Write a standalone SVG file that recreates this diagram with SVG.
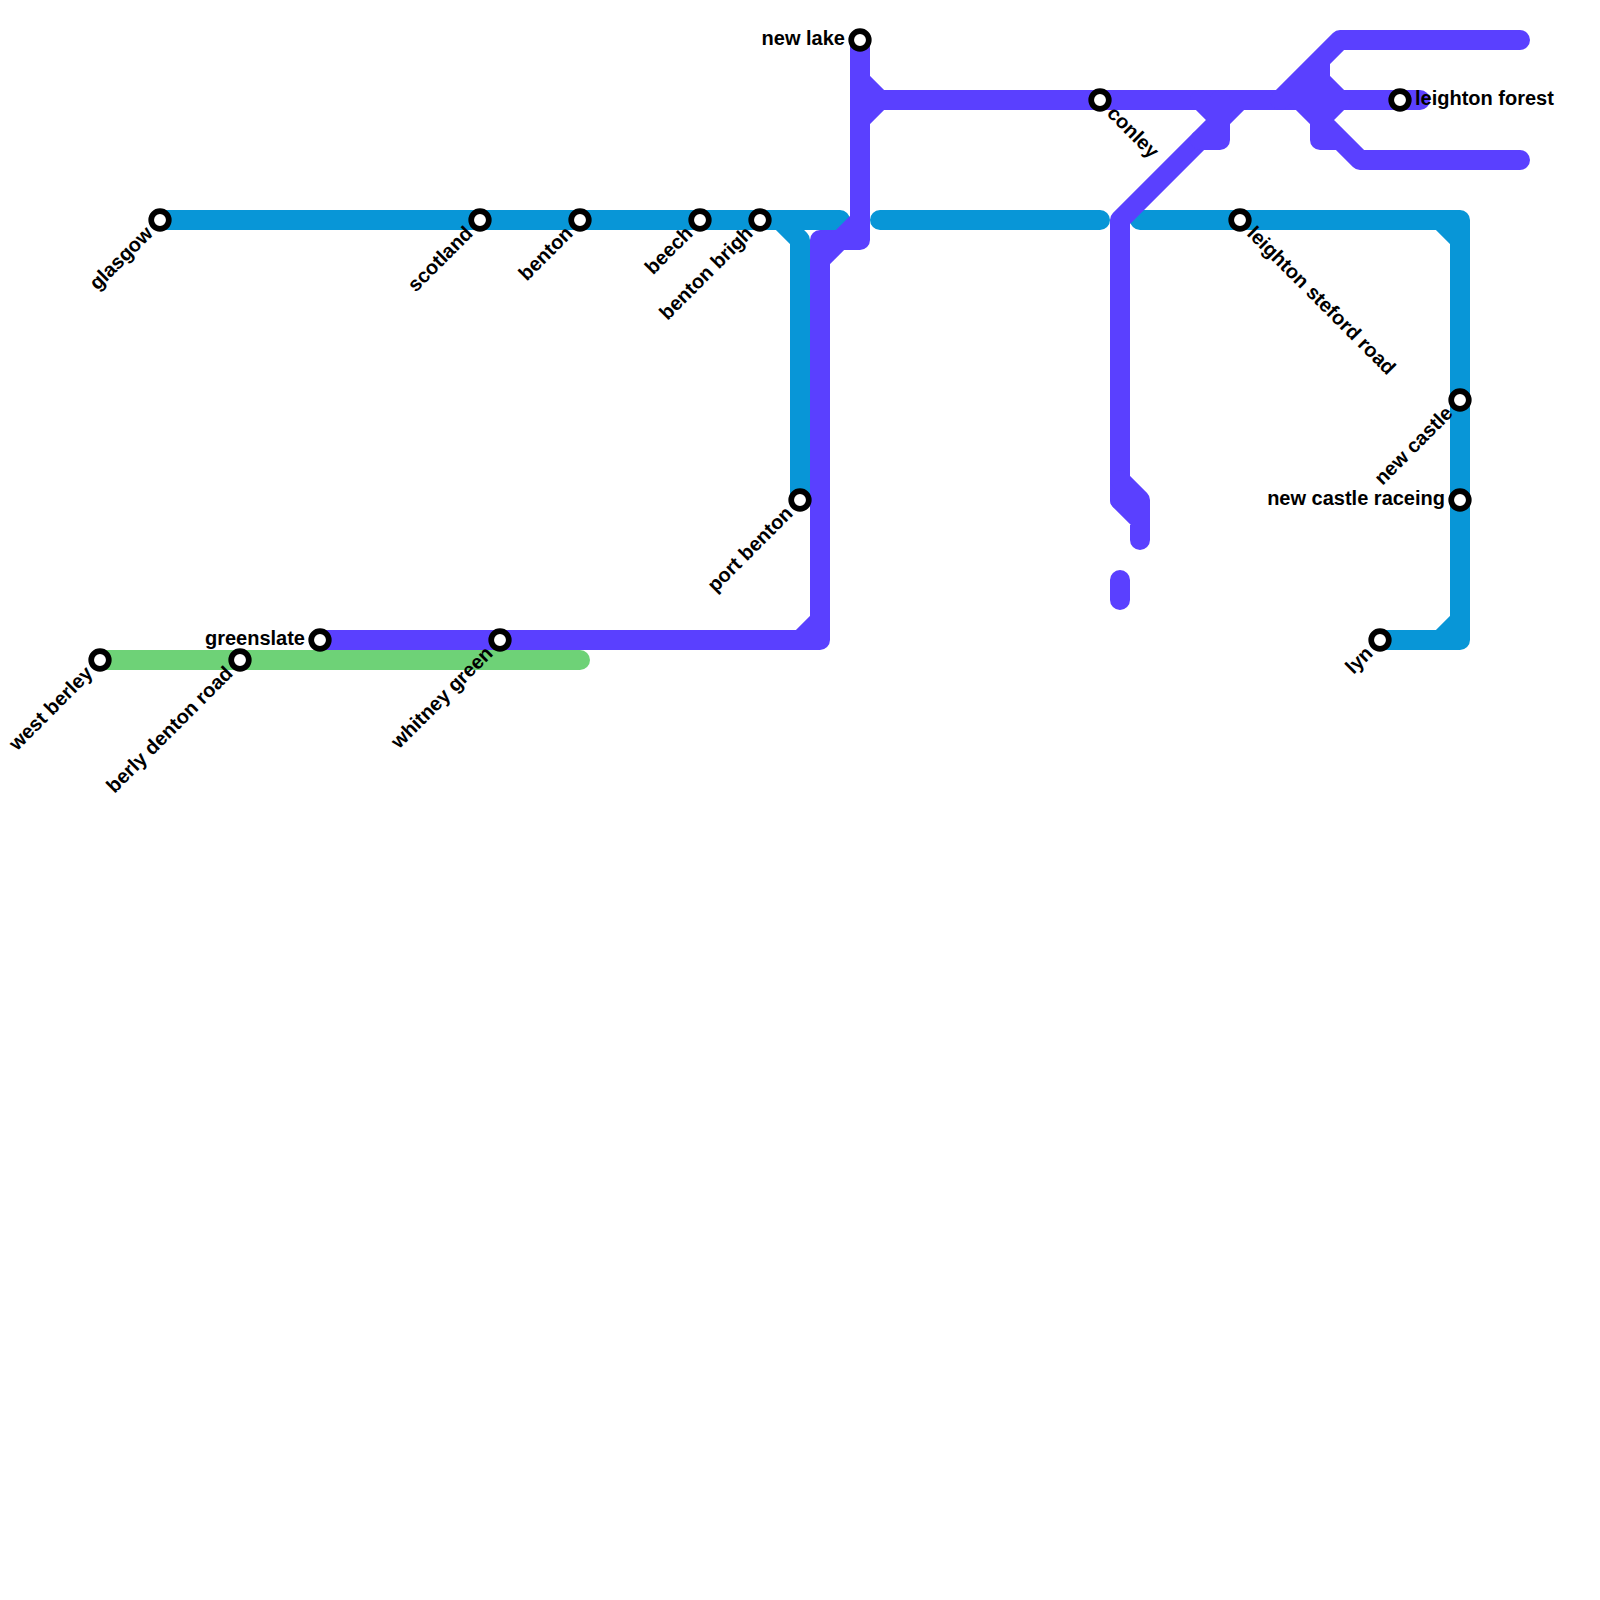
<svg xmlns="http://www.w3.org/2000/svg" width="1600" height="1600" viewBox="0 0 1600 1600">
<style>
.l{fill:none;stroke-width:20;stroke-linecap:round;stroke-linejoin:round}
.b{stroke:#0896d7}
.g{stroke:#6ed277}
.p{stroke:#5a40ff}
.s{fill:#fff;stroke:#000;stroke-width:5.7}
text{font-family:"Liberation Sans",Arial,sans-serif;font-size:20px;font-weight:700;fill:#000}
.e{text-anchor:end}
</style>
<rect width="1600" height="1600" fill="#fff"/>
<g id="connectors">
<path class="l b" d="M160 220H840M780 220L800 240V500M880 220H1100M1140 220H1460V640H1380M1440 220L1460 240M1460 620L1440 640"/>
<path class="l g" d="M100 660H580"/>
<path class="l p" d="M320 640H820V240H860V40M800 640L820 620M860 220L820 260M860 80L880 100L860 120M860 100H1420M1120 580V600M1120 500V220L1240 100"/>
<path class="l p" d="M1120 480L1140 500V540M1120 500L1140 520M1200 100L1220 120M1220 100V140H1200M1280 100L1340 40H1520M1320 60V140H1340L1360 160H1520M1320 80L1340 100M1300 100L1360 160M1320 120L1340 100M1300 100L1320 80"/>
</g>
<g id="glasgow"><circle class="s" cx="160" cy="220" r="8.8"/><text class="e" transform="translate(160 220) rotate(-45)" x="-14.5" y="6">glasgow</text></g>
<g id="scotland"><circle class="s" cx="480" cy="220" r="8.8"/><text class="e" transform="translate(480 220) rotate(-45)" x="-14.5" y="6">scotland</text></g>
<g id="benton"><circle class="s" cx="580" cy="220" r="8.8"/><text class="e" transform="translate(580 220) rotate(-45)" x="-14.5" y="6">benton</text></g>
<g id="beech"><circle class="s" cx="700" cy="220" r="8.8"/><text class="e" transform="translate(700 220) rotate(-45)" x="-14.5" y="6">beech</text></g>
<g id="benton-brigh"><circle class="s" cx="760" cy="220" r="8.8"/><text class="e" transform="translate(760 220) rotate(-45)" x="-14.5" y="6">benton brigh</text></g>
<g id="port-benton"><circle class="s" cx="800" cy="500" r="8.8"/><text class="e" transform="translate(800 500) rotate(-45)" x="-14.5" y="6">port benton</text></g>
<g id="new-lake"><circle class="s" cx="860" cy="40" r="8.8"/><text class="e" x="845" y="45">new lake</text></g>
<g id="conley"><circle class="s" cx="1100" cy="100" r="8.8"/><text transform="translate(1100 100) rotate(45)" x="14.5" y="6">conley</text></g>
<g id="leighton-steford-road"><circle class="s" cx="1240" cy="220" r="8.8"/><text transform="translate(1240 220) rotate(45)" x="14.5" y="6">leighton steford road</text></g>
<g id="leighton-forest"><circle class="s" cx="1400" cy="100" r="8.8"/><text x="1415" y="105">leighton forest</text></g>
<g id="new-castle"><circle class="s" cx="1460" cy="400" r="8.8"/><text class="e" transform="translate(1460 400) rotate(-45)" x="-14.5" y="6">new castle</text></g>
<g id="new-castle-raceing"><circle class="s" cx="1460" cy="500" r="8.8"/><text class="e" x="1445" y="505">new castle raceing</text></g>
<g id="lyn"><circle class="s" cx="1380" cy="640" r="8.8"/><text class="e" transform="translate(1380 640) rotate(-45)" x="-14.5" y="6">lyn</text></g>
<g id="west-berley"><circle class="s" cx="100" cy="660" r="8.8"/><text class="e" transform="translate(100 660) rotate(-45)" x="-14.5" y="6">west berley</text></g>
<g id="berly-denton-road"><circle class="s" cx="240" cy="660" r="8.8"/><text class="e" transform="translate(240 660) rotate(-45)" x="-14.5" y="6">berly denton road</text></g>
<g id="greenslate"><circle class="s" cx="320" cy="640" r="8.8"/><text class="e" x="305" y="645">greenslate</text></g>
<g id="whitney-green"><circle class="s" cx="500" cy="640" r="8.8"/><text class="e" transform="translate(500 640) rotate(-45)" x="-14.5" y="6">whitney green</text></g>
</svg>
